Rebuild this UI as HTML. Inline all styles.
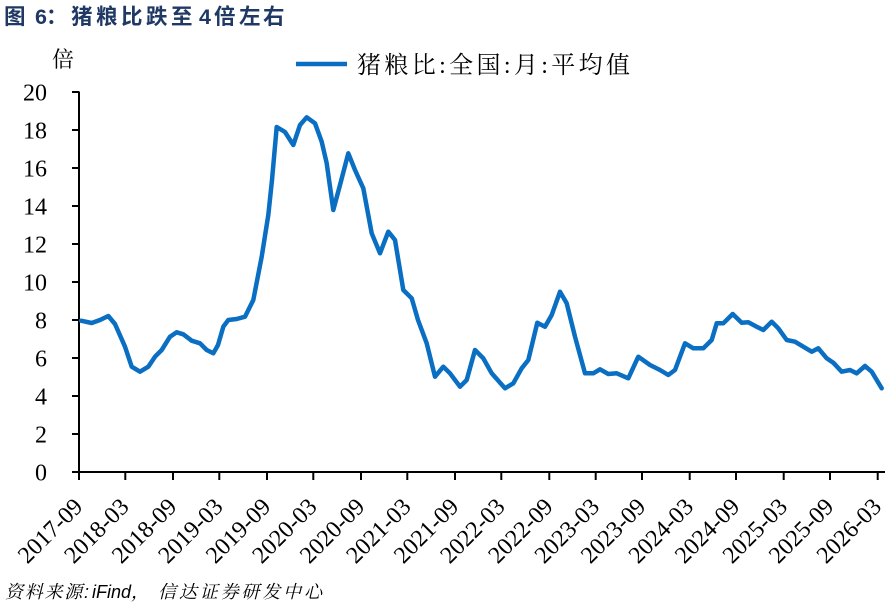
<!DOCTYPE html>
<html>
<head>
<meta charset="utf-8">
<style>
  html,body{margin:0;padding:0;background:#fff;}
  body{width:888px;height:603px;overflow:hidden;}
  svg{display:block;}
  .ax{font-family:"Liberation Serif","Noto Serif CJK SC",serif;font-size:24px;fill:#000;}
</style>
</head>
<body>
<svg width="888" height="603" viewBox="0 0 888 603" xmlns="http://www.w3.org/2000/svg">
  <rect x="0" y="0" width="888" height="603" fill="#fff"/>

  <!-- Title -->
  <text y="24" font-family="'Liberation Sans','Noto Sans CJK SC',sans-serif" font-size="21.5" font-weight="bold" fill="#1f3864">
    <tspan x="4">图</tspan><tspan x="35">6</tspan><tspan x="46">：</tspan><tspan x="71">猪</tspan><tspan x="96">粮</tspan><tspan x="121">比</tspan><tspan x="146">跌</tspan><tspan x="171">至</tspan><tspan x="199">4</tspan><tspan x="214">倍</tspan><tspan x="239">左</tspan><tspan x="263">右</tspan>
  </text>

  <!-- Unit -->
  <text x="52" y="67" font-family="'Liberation Serif','Noto Serif CJK SC',serif" font-size="22" fill="#000">倍</text>

  <!-- Legend -->
  <line x1="296" y1="64" x2="347" y2="64" stroke="#0a6fc2" stroke-width="4.5"/>
  <text x="357" y="73" font-family="'Liberation Serif','Noto Serif CJK SC',serif" font-size="24" fill="#000" textLength="273" lengthAdjust="spacing">猪粮比:全国:月:平均值</text>

  <!-- Y axis -->
  <g stroke="#000" stroke-width="2">
    <line x1="79" y1="91.5" x2="79" y2="473"/>
    <line x1="72" y1="92" x2="79" y2="92"/>
    <line x1="72" y1="130" x2="79" y2="130"/>
    <line x1="72" y1="168" x2="79" y2="168"/>
    <line x1="72" y1="206" x2="79" y2="206"/>
    <line x1="72" y1="244" x2="79" y2="244"/>
    <line x1="72" y1="282" x2="79" y2="282"/>
    <line x1="72" y1="320" x2="79" y2="320"/>
    <line x1="72" y1="358" x2="79" y2="358"/>
    <line x1="72" y1="396" x2="79" y2="396"/>
    <line x1="72" y1="434" x2="79" y2="434"/>
    <line x1="72" y1="472" x2="885" y2="472"/>
  </g>
  <g class="ax" text-anchor="end">
    <text x="47" y="100.5">20</text>
    <text x="47" y="138.5">18</text>
    <text x="47" y="176.5">16</text>
    <text x="47" y="214.5">14</text>
    <text x="47" y="252.5">12</text>
    <text x="47" y="290.5">10</text>
    <text x="47" y="328.5">8</text>
    <text x="47" y="366.5">6</text>
    <text x="47" y="404.5">4</text>
    <text x="47" y="442.5">2</text>
    <text x="47" y="480.5">0</text>
  </g>

  <!-- X ticks -->
  <g stroke="#000" stroke-width="2">
    <line x1="79" y1="472" x2="79" y2="480"/>
    <line x1="125.3" y1="472" x2="125.3" y2="480"/>
    <line x1="173" y1="472" x2="173" y2="480"/>
    <line x1="219.3" y1="472" x2="219.3" y2="480"/>
    <line x1="267" y1="472" x2="267" y2="480"/>
    <line x1="313.3" y1="472" x2="313.3" y2="480"/>
    <line x1="361" y1="472" x2="361" y2="480"/>
    <line x1="407.3" y1="472" x2="407.3" y2="480"/>
    <line x1="455" y1="472" x2="455" y2="480"/>
    <line x1="501.3" y1="472" x2="501.3" y2="480"/>
    <line x1="549.3" y1="472" x2="549.3" y2="480"/>
    <line x1="595.7" y1="472" x2="595.7" y2="480"/>
    <line x1="642" y1="472" x2="642" y2="480"/>
    <line x1="689.7" y1="472" x2="689.7" y2="480"/>
    <line x1="736" y1="472" x2="736" y2="480"/>
    <line x1="783.7" y1="472" x2="783.7" y2="480"/>
    <line x1="830" y1="472" x2="830" y2="480"/>
    <line x1="877.7" y1="472" x2="877.7" y2="480"/>
  </g>
  <g class="ax" text-anchor="end">
    <text x="84" y="508" transform="rotate(-45 84 508)">2017-09</text>
    <text x="130.3" y="508" transform="rotate(-45 130.3 508)">2018-03</text>
    <text x="178" y="508" transform="rotate(-45 178 508)">2018-09</text>
    <text x="224.3" y="508" transform="rotate(-45 224.3 508)">2019-03</text>
    <text x="272" y="508" transform="rotate(-45 272 508)">2019-09</text>
    <text x="318.3" y="508" transform="rotate(-45 318.3 508)">2020-03</text>
    <text x="366" y="508" transform="rotate(-45 366 508)">2020-09</text>
    <text x="412.3" y="508" transform="rotate(-45 412.3 508)">2021-03</text>
    <text x="460" y="508" transform="rotate(-45 460 508)">2021-09</text>
    <text x="506.3" y="508" transform="rotate(-45 506.3 508)">2022-03</text>
    <text x="554.3" y="508" transform="rotate(-45 554.3 508)">2022-09</text>
    <text x="600.7" y="508" transform="rotate(-45 600.7 508)">2023-03</text>
    <text x="647" y="508" transform="rotate(-45 647 508)">2023-09</text>
    <text x="694.7" y="508" transform="rotate(-45 694.7 508)">2024-03</text>
    <text x="741" y="508" transform="rotate(-45 741 508)">2024-09</text>
    <text x="788.7" y="508" transform="rotate(-45 788.7 508)">2025-03</text>
    <text x="835" y="508" transform="rotate(-45 835 508)">2025-09</text>
    <text x="882.7" y="508" transform="rotate(-45 882.7 508)">2026-03</text>
  </g>

  <!-- Series -->
  <polyline fill="none" stroke="#0a6fc2" stroke-width="4.5" stroke-linejoin="round" stroke-linecap="round"
    points="81,320.7 91.7,323 100,320 108.3,316 115,324 125,346.7 131.7,366.7 140,371.7 148.3,366.7 155,356.7 161.7,350 170,336.7 176.7,332.3 183.3,334.3 191.7,340.7 200,343.3 206.7,350 213.3,353.3 218,345 223.3,326.7 228.3,320 236.7,319 245,316.7 253.3,300 261.7,256.7 268.3,215 272,180 276.7,127 285,132 293.3,145 300,125 306.7,117.3 315,123.3 321.7,141.7 326.7,163.3 333.3,210 340,185 348.3,153.3 355,170 363.3,188.3 371.7,233.3 380,253.3 388.3,231.7 395,240 403.3,290 411.7,298.3 418,320 426.7,343.3 435,376.7 443.3,366.7 450,373.3 460,386.7 466.7,380 475,350 483.3,358.3 491.7,373.3 505,388.3 513.3,383.3 521.7,368.3 528.3,360 537.3,322.7 545,326.7 551.7,315 560,291.7 566.7,303.3 575,336.7 585,373.3 593.3,373.3 600,369.3 608.3,374 616.7,373.3 628.3,378.3 638.3,356.7 650,365 660,370 668.3,375 675,370 685,343.3 693.3,348.3 703.3,348.3 711.7,340 716.7,323.3 723.3,323.3 732.7,314 741.7,322.7 748.3,322.3 756.7,326.7 763.3,330 771.7,321.7 778.3,328.3 786.7,340 795,341.7 803.3,346.7 811.7,351.7 818.3,348.3 826.7,358.3 833.3,362.7 841.7,371.7 850,370 856.7,373.3 865,366 871.7,371.7 881.7,388.3"/>

  <!-- Source -->
  <g font-family="'Liberation Sans','Noto Serif CJK SC',sans-serif" font-size="18" font-style="italic" fill="#000">
    <text x="5" y="598" textLength="84" lengthAdjust="spacing">资料来源:</text>
    <text x="92" y="598">iFind</text>
    <text x="131" y="598">，</text>
    <text x="158" y="598" textLength="164" lengthAdjust="spacing">信达证券研发中心</text>
  </g>
</svg>
</body>
</html>
